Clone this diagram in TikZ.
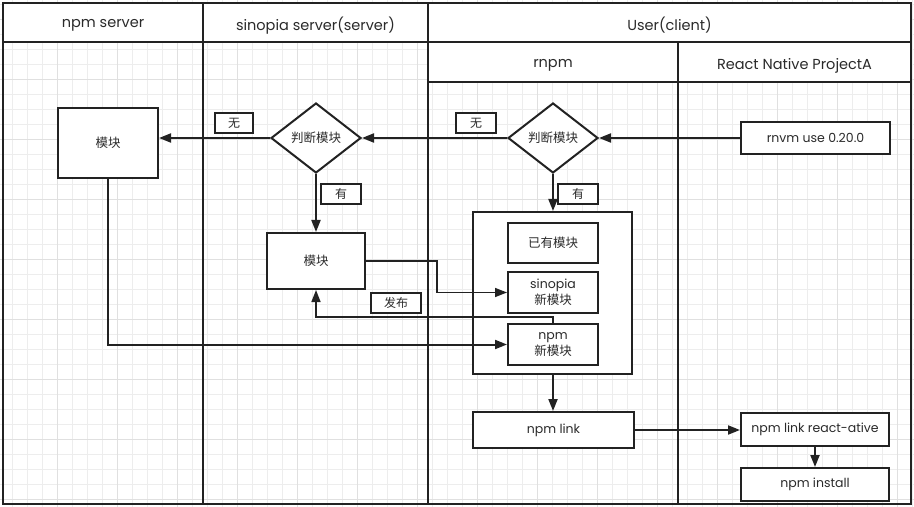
\documentclass[tikz,border=0pt]{standalone}
\usepackage{fontspec}
\setmainfont{Poppins}
\newfontfamily\zhfont{Noto Sans CJK SC}
\usetikzlibrary{arrows.meta,shapes.geometric}
\definecolor{ln}{HTML}{222222}
\definecolor{tx}{HTML}{2A2A2A}
\definecolor{gminor}{HTML}{EDEDED}
\definecolor{gmajor}{HTML}{E0E0E0}
\tikzset{
  lane/.style={draw=ln, line width=2.2bp},
  box/.style={draw=ln, line width=2bp, fill=white, inner sep=0pt, text=tx, align=center, font=\fontsize{12.5bp}{16.5bp}\selectfont},
  dia/.style={draw=ln, line width=2bp, fill=white, diamond, inner sep=0pt, minimum width=90bp, minimum height=70bp, text=tx, font=\fontsize{12.5bp}{15bp}\selectfont},
  tag/.style={draw=ln, line width=1.8bp, fill=white, inner sep=0pt, minimum width=40bp, minimum height=20bp, text=tx, font=\fontsize{12bp}{14bp}\selectfont\zhfont},
  head/.style={text=tx, font=\fontsize{14.5bp}{17bp}\selectfont},
  arr/.style={draw=ln, line width=2bp, -{Triangle[length=12bp,width=9bp]}},
  thinarr/.style={draw=ln, line width=1.5bp, -{Triangle[length=12bp,width=9bp]}},
}
\newcommand{\zh}[1]{{\zhfont #1}}
\begin{document}
\begin{tikzpicture}[x=1bp,y=-1bp]
\useasboundingbox (0,0) rectangle (914,507);
\fill[white] (0,0) rectangle (914,507);
% grid
\foreach \i in {0,...,61} {
  \draw[gminor, line width=0.8bp] ({-2.7+15*\i},0) -- ({-2.7+15*\i},507);
}
\foreach \j in {0,...,34} {
  \draw[gminor, line width=0.8bp] (0,{4+15*\j}) -- (914,{4+15*\j});
}
\foreach \i in {0,...,15} {
  \draw[gmajor, line width=0.8bp] ({-2.7+60*\i},0) -- ({-2.7+60*\i},507);
}
\foreach \j in {0,...,8} {
  \draw[gmajor, line width=0.8bp] (0,{19+60*\j}) -- (914,{19+60*\j});
}
% header backgrounds
\fill[white] (3,3) rectangle (911,42);
\fill[white] (428,42) rectangle (911,82);
% lanes
\draw[lane] (3,3) rectangle (911,504);
\draw[lane] (3,42) -- (911,42);
\draw[lane] (428,82) -- (911,82);
\draw[lane] (203,3) -- (203,504);
\draw[lane] (428,3) -- (428,504);
\draw[lane] (678,42) -- (678,504);
% headers
\node[head] (h1) at (103,25.5) {npm server};
\node[head] (h2) at (315.5,25.5) {sinopia server(server)};
\node[head] (h3) at (669.5,25.5) {User(client)};
\node[head] (h4) at (553,65.5) {rnpm};
\node[head] (h5) at (794.5,65.5) {React Native ProjectA};
% nodes
\node[box, minimum width=100bp, minimum height=70bp] (m1) at (108,143) {\zh{模块}};
\node[dia] (d1) at (316,138) {\zh{判断模块}};
\node[dia] (d2) at (553,138) {\zh{判断模块}};
\node[box, minimum width=149bp, minimum height=32bp] (rnvm) at (815.5,138) {rnvm use 0.20.0};
\node[box, minimum width=98bp, minimum height=56bp] (m2) at (316,261) {\zh{模块}};
\node[box, minimum width=159bp, minimum height=162bp] (cont) at (552.5,293) {};
\node[box, minimum width=90bp, minimum height=40bp] (yy) at (553,243) {\zh{已有模块}};
\node[box, minimum width=90bp, minimum height=41bp] (sn) at (553,292.5) {sinopia\\\zh{新模块}};
\node[box, minimum width=90bp, minimum height=41bp] (nn) at (553,344.5) {npm\\\zh{新模块}};
\node[box, minimum width=161bp, minimum height=36bp] (link) at (553.5,430) {npm link};
\node[box, minimum width=148bp, minimum height=33bp] (nlr) at (815,429.5) {npm link react-ative};
\node[box, minimum width=148bp, minimum height=33bp] (inst) at (815,484.5) {npm install};
% tags
\node[tag, minimum width=38bp] (no1) at (234,123) {无};
\node[tag] (no2) at (476,123) {无};
\node[tag] (you1) at (341,194) {有};
\node[tag] (you2) at (578,194) {有};
\node[tag, minimum width=50bp] (fabu) at (396,303) {发布};
% connectors
\draw[arr] (rnvm.west) -- (d2.east);
\draw[arr] (d2.west) -- (d1.east);
\draw[arr] (d1.west) -- (d1.west -| m1.east);
\draw[arr] (d1.south) -- (m2.north);
\draw[arr] (d2.south) -- (d2.south |- cont.north);
\draw[thinarr] (m2.east) -- ++(71,0) |- (sn.west);
\draw[thinarr] (nn.north) -- ++(0,-6) -| (m2.south);
\draw[arr] (m1.south) |- (nn.west);
\draw[arr] (d2.south |- cont.south) -- (d2.south |- link.north);
\draw[arr] (link.east) -- (link.east -| nlr.west);
\draw[arr] (nlr.south) -- (inst.north);
\end{tikzpicture}
\end{document}
